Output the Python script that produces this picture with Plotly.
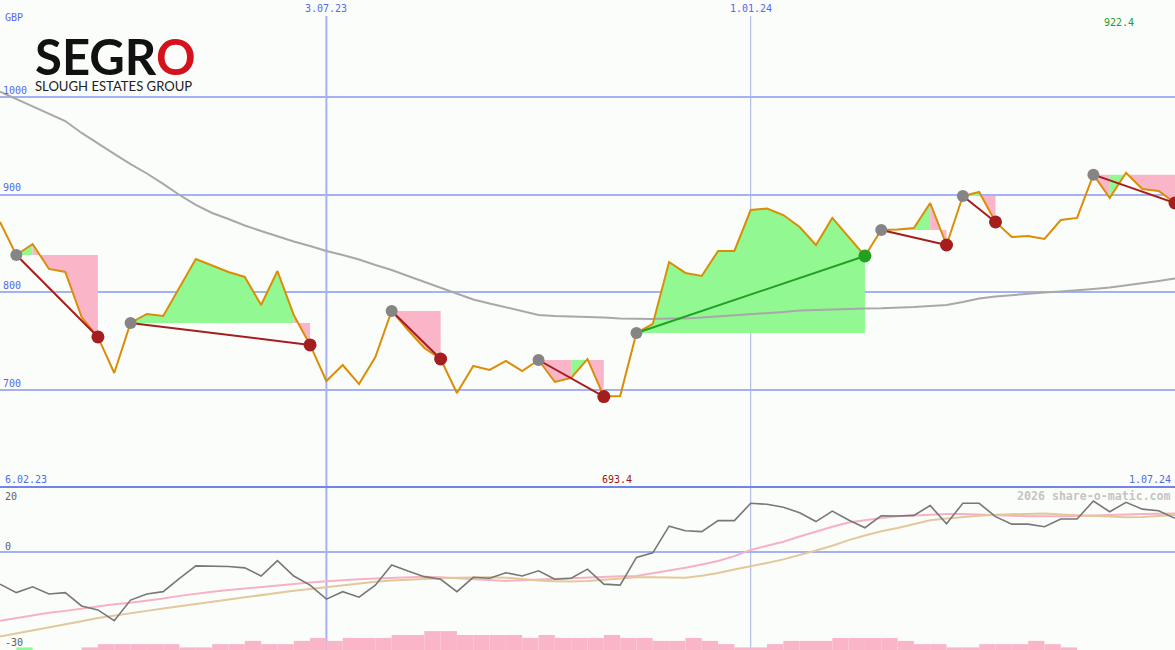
import numpy as np
import pandas as pd
import plotly.graph_objects as go

# ---------------- data ----------------
start_date = "2023-02-13"
n_weeks = 73
dates = pd.date_range(start=start_date, periods=n_weeks, freq="7D")

price = [872.1, 838.3, 849.5, 824.0, 820.9, 774.8, 754.4, 717.5, 768.7, 777.9,
         775.8, 804.5, 834.2, 827.5, 820.9, 815.8, 787.1, 821.9, 776.9, 746.2,
         709.3, 725.7, 706.2, 733.9, 781.0, 761.5, 743.1, 731.8, 697.0, 724.7,
         720.6, 729.8, 719.5, 730.8, 708.3, 712.4, 731.8, 693.4, 694.0, 758.4,
         767.7, 831.1, 819.9, 816.8, 842.4, 842.4, 884.3, 885.9, 879.2, 866.9,
         848.5, 876.2, 856.7, 837.3, 863.9, 864.5, 865.9, 891.5, 848.5, 898.7,
         902.8, 872.1, 856.7, 857.7, 854.7, 874.1, 876.2, 920.5, 896.6, 922.4,
         905.8, 903.8, 891.5]

ma_long = [1005.4, 998.0, 990.8, 983.1, 975.4, 963.2, 952.9, 941.7, 931.4, 921.7,
           911.0, 899.7, 889.5, 881.3, 875.1, 868.5, 862.8, 857.2, 852.1, 847.5,
           842.4, 838.3, 833.7, 828.0, 822.9, 816.8, 810.6, 804.5, 798.4, 792.7,
           788.6, 784.5, 780.9, 776.9, 775.8, 775.3, 775.3, 774.3, 773.3, 772.8,
           772.8, 773.3, 773.3, 774.3, 775.3, 776.9, 777.9, 778.9, 779.9, 781.5,
           782.0, 783.0, 783.5, 783.5, 783.7, 784.0, 785.0, 786.1, 787.1, 790.2,
           793.8, 795.8, 797.3, 798.9, 799.9, 800.9, 801.9, 803.5, 805.0, 807.1,
           809.1, 811.7, 814.2]

osc = [-9.8, -12.4, -10.6, -12.8, -12.4, -16.5, -17.7, -21.0, -14.7, -12.8,
       -12.1, -8.0, -4.2, -4.2, -4.4, -4.8, -7.3, -2.6, -7.3, -10.1,
       -14.4, -12.1, -13.8, -10.1, -3.9, -5.8, -7.5, -8.3, -12.1, -7.7,
       -8.0, -6.3, -7.3, -5.7, -8.3, -8.0, -5.2, -9.8, -10.1, -1.6,
       -0.2, 8.0, 6.6, 6.3, 9.7, 9.7, 15.0, 14.7, 13.8, 12.1,
       9.4, 12.6, 9.9, 7.5, 11.2, 11.1, 11.3, 14.3, 8.7, 15.0,
       15.0, 10.9, 8.6, 8.6, 7.8, 10.2, 10.2, 15.7, 12.4, 15.3,
       13.2, 12.7, 10.4]

osc_fast = [-21.0, -20.2, -19.3, -18.6, -18.0, -17.3, -16.7, -16.0, -15.5, -14.9,
            -14.2, -13.4, -12.7, -12.1, -11.6, -11.1, -10.6, -10.2, -9.7, -9.3,
            -8.9, -8.5, -8.3, -8.1, -7.9, -7.7, -7.5, -7.7, -8.0, -8.3,
            -8.7, -8.8, -8.6, -8.4, -8.1, -7.8, -7.6, -7.5, -7.4, -7.3,
            -6.5, -5.7, -4.8, -3.8, -2.7, -1.2, 0.7, 2.0, 3.2, 4.8,
            6.4, 7.8, 9.1, 9.9, 10.5, 11.0, 11.3, 11.6, 11.7, 11.7,
            11.6, 11.4, 11.2, 11.0, 10.9, 11.0, 11.1, 11.3, 11.4, 11.5,
            11.7, 11.8, 11.9]

osc_slow = [-25.9, -25.0, -24.1, -23.2, -22.3, -21.2, -20.2, -19.4, -18.7, -18.0,
            -17.3, -16.6, -15.9, -15.2, -14.5, -13.8, -13.1, -12.4, -11.8, -11.3,
            -10.7, -10.1, -9.6, -9.1, -8.7, -8.4, -8.2, -8.0, -7.8, -7.7,
            -7.7, -7.8, -8.3, -8.7, -8.9, -9.0, -8.8, -8.5, -8.0, -7.7,
            -7.7, -7.7, -7.8, -7.2, -6.4, -5.3, -4.4, -3.3, -2.2, -0.9,
            0.5, 2.0, 3.7, 5.1, 6.4, 7.4, 8.7, 9.8, 10.3, 10.8,
            11.2, 11.5, 11.7, 11.9, 11.9, 11.6, 11.4, 11.1, 10.8, 10.7,
            10.8, 11.0, 11.4]

# weekly bars (interval starting at each week), height above panel floor
bar_pink = [0, 0, 0, 0, 0, 0.8, 1.8, 1.8, 1.8, 1.8,
            1.8, 0.8, 0.8, 1.8, 1.8, 2.8, 1.8, 1.8, 2.8, 3.7,
            2.8, 3.7, 3.7, 3.7, 4.6, 4.6, 5.8, 5.8, 4.6, 4.6,
            4.6, 4.6, 3.7, 4.6, 3.7, 3.7, 3.7, 4.6, 3.7, 3.7,
            2.8, 2.8, 3.7, 2.8, 1.8, 0.8, 0.8, 1.8, 2.8, 2.8,
            2.8, 3.7, 3.7, 3.7, 3.7, 2.8, 1.8, 1.8, 0.8, 0.8,
            1.8, 1.8, 1.8, 2.8, 1.8, 0.8, 0, 0, 0, 0,
            0, 0]
bar_green = [0, 0.8] + [0] * 70

# swings: (start index, end index)
swings = [(1, 6), (8, 19), (24, 27), (33, 37), (39, 53), (54, 58), (59, 61), (67, 72)]
# fills: (swing start index, from, to, colour key)
fills = [(1, 1, 2, "g"), (1, 2, 6, "p"),
         (8, 8, 18, "g"), (8, 18, 19, "p"),
         (24, 24, 27, "p"),
         (33, 33, 35, "p"), (33, 35, 36, "g"), (33, 36, 37, "p"),
         (39, 39, 53, "g"),
         (54, 54, 57, "g"), (54, 57, 58, "p"),
         (59, 59, 60, "g"), (59, 60, 61, "p"),
         (67, 67, 68, "p"), (67, 68, 69, "g"), (67, 69, 72, "p")]

y_ticks = [700, 800, 900, 1000]
x_tick_dates = ["2023-07-03", "2024-01-01"]
x_tick_labels = ["3.07.23", "1.01.24"]
start_label = "6.02.23"
end_label = "1.07.24"
osc_labels = [(20, "20"), (0, "0"), (-30, "-30")]

# ---------------- style ----------------
BG = "#fbfdfb"
GRID = "#a4b2f2"
BLUE_TXT = "#5468f0"
ORANGE = "#d98e06"
MA_GRAY = "#a8a8a8"
FILL_G = "#92f992"
FILL_P = "#fbb5c9"
DOWN = "#a41e1e"
UP = "#22a022"
MONO = "DejaVu Sans Mono"
SPLIT = 163 / 650

fig = go.Figure()

# fills
for s, a, b, c in fills:
    lvl = price[s]
    xs = [dates[a]] + list(dates[a:b + 1]) + [dates[b]]
    ys = [lvl] + price[a:b + 1] + [lvl]
    fig.add_trace(go.Scatter(x=xs, y=ys, mode="lines", fill="toself",
                             fillcolor=FILL_G if c == "g" else FILL_P,
                             line=dict(width=0), hoverinfo="skip", yaxis="y"))

fig.add_trace(go.Scatter(x=dates, y=ma_long, mode="lines",
                         line=dict(color=MA_GRAY, width=2), yaxis="y"))
fig.add_trace(go.Scatter(x=dates, y=price, mode="lines",
                         line=dict(color=ORANGE, width=2), yaxis="y"))

for s, e in swings:
    up = price[e] > price[s]
    col = UP if up else DOWN
    fig.add_trace(go.Scatter(x=[dates[s], dates[e]], y=[price[s], price[e]],
                             mode="lines", line=dict(color=col, width=2), yaxis="y"))
    fig.add_trace(go.Scatter(x=[dates[s]], y=[price[s]], mode="markers",
                             marker=dict(color="#858585", size=12), yaxis="y"))
    fig.add_trace(go.Scatter(x=[dates[e]], y=[price[e]], mode="markers",
                             marker=dict(color=col, size=13), yaxis="y"))

# lower panel
week_ms = 7 * 24 * 3600 * 1000
fig.add_trace(go.Bar(x=dates[:-1], y=bar_pink, base=-30, width=week_ms, offset=0,
                     marker=dict(color=FILL_P, line=dict(width=0)), yaxis="y2"))
fig.add_trace(go.Bar(x=dates[:-1], y=bar_green, base=-30, width=week_ms, offset=0,
                     marker=dict(color=FILL_G, line=dict(width=0)), yaxis="y2"))
fig.add_trace(go.Scatter(x=dates, y=osc_fast, mode="lines",
                         line=dict(color="#f8b0c4", width=2), yaxis="y2"))
fig.add_trace(go.Scatter(x=dates, y=osc_slow, mode="lines",
                         line=dict(color="#e2c89a", width=2), yaxis="y2"))
fig.add_trace(go.Scatter(x=dates, y=osc, mode="lines",
                         line=dict(color="#777777", width=1.6), yaxis="y2"))

shapes = []
for d, w, c in zip(x_tick_dates, [2, 1], [GRID, "#a8b0e0"]):
    shapes.append(dict(type="line", xref="x", yref="paper", x0=d, x1=d,
                       y0=0, y1=(650 - 16) / 650, line=dict(color=c, width=w),
                       layer="below"))
shapes.append(dict(type="line", xref="paper", yref="paper", x0=0, x1=1,
                   y0=SPLIT, y1=SPLIT, line=dict(color="#7284ea", width=2)))

ann = []
for d, t in zip(x_tick_dates, x_tick_labels):
    ann.append(dict(x=d, y=(650 - 9) / 650, xref="x", yref="paper", text=t,
                    showarrow=False, xanchor="center", yanchor="middle",
                    font=dict(family=MONO, size=10, color=BLUE_TXT)))
ann.append(dict(x=0, y=(650 - 18) / 650, xref="paper", yref="paper", text="GBP",
                showarrow=False, xanchor="left", yanchor="middle", xshift=3,
                font=dict(family=MONO, size=10, color=BLUE_TXT)))
ann.append(dict(x=0, y=(650 - 479) / 650, xref="paper", yref="paper", text=start_label,
                showarrow=False, xanchor="left", yanchor="middle", xshift=3,
                font=dict(family=MONO, size=10, color=BLUE_TXT)))
ann.append(dict(x=1, y=(650 - 479) / 650, xref="paper", yref="paper", text=end_label,
                showarrow=False, xanchor="right", yanchor="middle", xshift=-2,
                font=dict(family=MONO, size=10, color=BLUE_TXT)))
i_min = int(np.argmin(price))
i_max = int(np.argmax(price))
ann.append(dict(x=dates[i_min], y=(650 - 479) / 650, xref="x", yref="paper",
                text=f"{price[i_min]:.1f}", showarrow=False, xanchor="left",
                yanchor="middle", xshift=-4,
                font=dict(family=MONO, size=10, color="#a01414")))
ann.append(dict(x=dates[i_max], y=(650 - 23) / 650, xref="x", yref="paper",
                text=f"{price[i_max]:.1f}", showarrow=False, xanchor="center",
                yanchor="middle", xshift=-7,
                font=dict(family=MONO, size=10, color="#20a020")))
for v, t in osc_labels:
    if v == 20:
        yy = (650 - 496) / 650
    elif v == -30:
        yy = (650 - 642) / 650
    else:
        yy = (650 - 546) / 650
    ann.append(dict(x=0, y=yy, xref="paper", yref="paper", text=t, showarrow=False,
                    xanchor="left", yanchor="middle", xshift=3,
                    font=dict(family=MONO, size=10, color="#606060")))
ann.append(dict(x=1, y=(650 - 496) / 650, xref="paper", yref="paper",
                text="<b>2026 share-o-matic.com</b>", showarrow=False,
                xanchor="right", yanchor="middle", xshift=-2,
                font=dict(family=MONO, size=11.6, color="#c4c4c4")))
# logo
ann.append(dict(x=33 / 1175, y=(650 - 56) / 650, xref="paper", yref="paper",
                text="SEGR<span style='color:#d4121c'>O</span>", showarrow=False,
                xanchor="left", yanchor="middle",
                font=dict(family="Lato", size=49, color="#111111", weight=700)))
ann.append(dict(x=33 / 1175, y=(650 - 86) / 650, xref="paper", yref="paper",
                text="SLOUGH ESTATES GROUP", showarrow=False,
                xanchor="left", yanchor="middle",
                font=dict(family="Lato", size=13.1, color="#222222")))

fig.update_layout(
    width=1175, height=650,
    margin=dict(l=0, r=0, t=0, b=0),
    paper_bgcolor=BG, plot_bgcolor=BG,
    showlegend=False, barmode="overlay",
    xaxis=dict(range=[dates[0], dates[-1]], showgrid=False, showticklabels=False,
               zeroline=False, showline=False, ticks="", anchor="y2"),
    yaxis=dict(domain=[SPLIT, 1], range=[600.8, 1099.3], tickvals=y_ticks,
               ticklabelposition="inside top", showgrid=True, gridcolor=GRID,
               gridwidth=2, zeroline=False, showline=False, ticks="",
               tickfont=dict(family=MONO, size=10, color=BLUE_TXT)),
    yaxis2=dict(domain=[0, SPLIT], range=[-30, 20], tickvals=[0],
                showticklabels=False, showgrid=True, gridcolor=GRID, gridwidth=2,
                zeroline=False, showline=False, ticks=""),
    shapes=shapes, annotations=ann,
)

fig.write_html("out.html",
               config={"displayModeBar": False},
               post_script="document.body.style.margin='0';"
                           "document.body.style.overflow='hidden';"
                           "document.body.style.background='" + BG + "';")
